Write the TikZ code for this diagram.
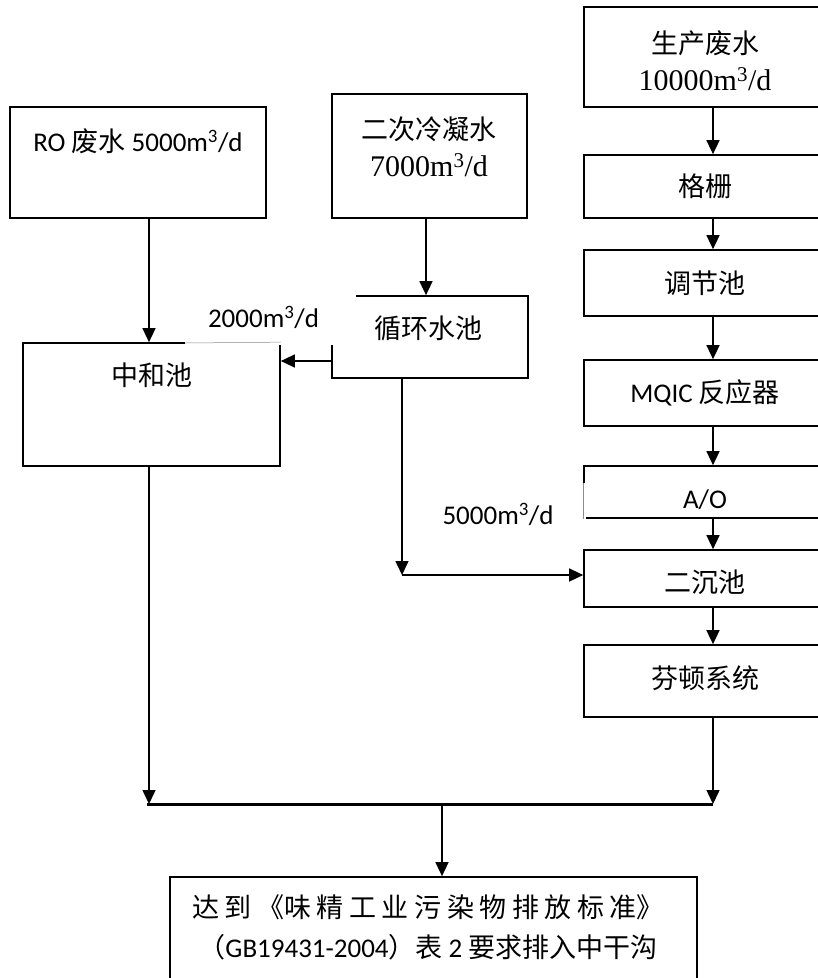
\documentclass[tikz,border=0pt]{standalone}
\usepackage{fontspec}
\setmainfont{Liberation Serif}
\newfontfamily\cjk{Noto Sans CJK SC}
\newfontfamily\calf{Carlito}
\usetikzlibrary{arrows.meta}
\begin{document}
\begin{tikzpicture}[x=1pt,y=-1pt,
  box/.style={draw, line width=1.7pt, inner sep=0pt},
  txt/.style={inner sep=0pt, font=\fontsize{27}{32}\selectfont\cjk},
  arr/.style={line width=1.5pt, -{Triangle[length=14pt,width=13pt]}},
  cover/.style={fill=white, inner sep=0pt, font=\fontsize{27}{32}\selectfont\calf},
  ghost/.style={draw=black!45, line width=0.5pt}]
\useasboundingbox (0,0) rectangle (818,978);
\clip (0,0) rectangle (818,978);

% column coordinates
\coordinate (colR) at (713,0);
\coordinate (colL) at (149,0);
\coordinate (colM) at (402,0);
\coordinate (col2) at (426,0);
\coordinate (colC) at (442,0);
\coordinate (row2000) at (0,361);
\coordinate (jn) at (402,575);
\coordinate (barL) at (147,804);
\coordinate (barR) at (713,804);

% right column
\node[box, minimum width=242pt, minimum height=100pt] (sc) at (705,57) {};
\node[txt, align=center] (scT) at (705,61) {生产废水\\[5pt]{\rmfamily\fontsize{30}{32}\selectfont 10000m\textsuperscript{3}/d}};
\node[box, minimum width=242pt, minimum height=63pt] (gs) at (705,186.5) {};
\node[txt] (gsT) at (705,186.5) {格栅};
\node[box, minimum width=242pt, minimum height=66pt] (tj) at (705,283) {};
\node[txt] (tjT) at (705,283) {调节池};
\node[box, minimum width=242pt, minimum height=66pt] (mq) at (705,393) {};
\node[txt] (mqT) at (705,393) {{\calf MQIC} 反应器};
\node[box, minimum width=242pt, minimum height=52pt] (ao) at (705,492) {};
\node[txt] (aoT) at (705,500) {\calf A/O};
\node[box, minimum width=242pt, minimum height=57pt] (ec) at (705,578.5) {};
\node[txt] (ecT) at (705,582) {二沉池};
\node[box, minimum width=242pt, minimum height=72pt] (ft) at (705,681) {};
\node[txt] (ftT) at (705,678) {芬顿系统};

% left / middle
\node[box, minimum width=256pt, minimum height=111pt] (ro) at (138,162.5) {};
\node[txt] (roT) at (138,141) {{\calf RO} 废水 {\calf 5000m\textsuperscript{3}/d}};
\node[box, minimum width=195pt, minimum height=124pt] (ecw) at (429.5,156) {};
\node[txt, align=center] (ecwT) at (429,147) {二次冷凝水\\[5pt]{\rmfamily\fontsize{30}{32}\selectfont 7000m\textsuperscript{3}/d}};
\node[box, minimum width=196pt, minimum height=82pt] (xh) at (430,337) {};
\node[txt] (xhT) at (428,328) {循环水池};
\node[box, minimum width=257pt, minimum height=123pt] (zh) at (151.5,404.5) {};
\node[txt] (zhT) at (152,375) {中和池};

% bottom
\node[box, minimum width=527pt, minimum height=113pt] (out) at (433.5,933.5) {};
\node[txt, align=center, font=\fontsize{27}{40}\selectfont\cjk] (outT) at (428,927) {%
\makebox[472pt][s]{达\hfill 到\hfill 《味\hfill 精\hfill 工\hfill 业\hfill 污\hfill 染\hfill 物\hfill 排\hfill 放\hfill 标\hfill 准》}\\
（{\calf GB19431-2004}）表{\calf\ 2\ }要求排入中干沟};

% connectors
\draw[arr] (sc.south -| colR) -- (gs.north -| colR);
\draw[arr] (gs.south -| colR) -- (tj.north -| colR);
\draw[arr] (tj.south -| colR) -- (mq.north -| colR);
\draw[arr] (mq.south -| colR) -- (ao.north -| colR);
\draw[arr] (ao.south -| colR) -- (ec.north -| colR);
\draw[arr] (ec.south -| colR) -- (ft.north -| colR);
\draw[arr] (ro.south -| colL) -- (zh.north -| colL);
\draw[arr] (ecw.south -| col2) -- (xh.north -| col2);
\draw[arr] (xh.west |- row2000) -- (zh.east |- row2000);
\draw[arr] (xh.south -| colM) -- (jn);
\draw[arr] (jn) -- (ec.west |- jn);
\draw[arr] (zh.south -| colL) -- (barL -| colL);
\draw[arr] (ft.south -| colR) -- (barR);
\draw[line width=3pt] (barL) -- (barR);
\draw[arr] (barL -| colC) -- (out.north -| colC);

% labels (white text boxes over the lines)
\node[cover, minimum width=171pt, minimum height=55pt] (l2000) at (270.5,317.5) {\hspace*{-14pt}2000m\textsuperscript{3}/d};
\draw[ghost] (185,343) -- (zh.north east);
\node[cover, minimum width=176pt, minimum height=62pt] (l5000) at (498,514) {\raisebox{-5pt}{5000m\textsuperscript{3}/d}};
\draw[ghost] (ao.west |- 0,483) -- (ao.south west);
\end{tikzpicture}
\end{document}
